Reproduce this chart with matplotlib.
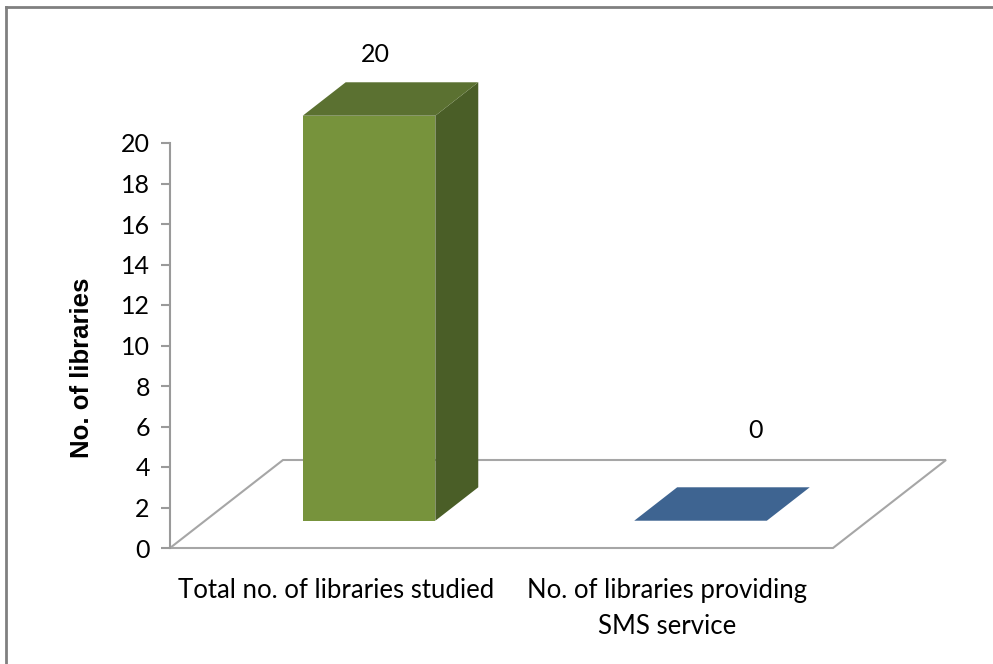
import matplotlib.pyplot as plt
from matplotlib.patches import Polygon
from matplotlib.lines import Line2D

categories = ["Total no. of libraries studied", "No. of libraries providing\nSMS service"]
values = [20, 0]
front_colors = ["#77933C", "#3E6491"]
top_colors = ["#5B7131", "#3E6491"]
side_colors = ["#4A5E27", "#34547A"]
y_ticks = list(range(0, 21, 2))

W, H = 993, 664
fig = plt.figure(figsize=(W / 100, H / 100), dpi=100)

# plot area: x 0..2 -> px 170..833, y 0..20 -> px 548..143
x0px, x1px, y0px, y1px = 170, 833, 548, 143
ax = fig.add_axes([x0px / W, 1 - y0px / H, (x1px - x0px) / W, (y0px - y1px) / H])
ax.set_xlim(0, len(categories))
ax.set_ylim(0, 20)
for s in ["top", "right", "bottom"]:
    ax.spines[s].set_visible(False)
ax.spines["left"].set_color("#9A9A9A")
ax.spines["left"].set_linewidth(1.5)
ax.set_xticks([])
ax.set_yticks(y_ticks)
ax.tick_params(axis="y", length=6.5, width=1.5, color="#9A9A9A", pad=8,
               labelsize=18)
for lab in ax.get_yticklabels():
    lab.set_fontfamily("Lato")
ax.set_ylabel("No. of libraries", fontsize=18.5, fontweight="bold",
              family="Liberation Sans")
ax.yaxis.set_label_coords(-0.115, 0.445)

# oblique depth (in data units)
dx = 113 / ((x1px - x0px) / 2)
dy = 88 / ((y0px - y1px) / 20)
d0, d1 = 0.31, 0.69
bw = 0.40

floor = Polygon([(0, 0), (len(categories), 0), (len(categories) + dx, dy), (dx, dy)],
                closed=True, facecolor="white", edgecolor="#A6A6A6", lw=1.5,
                clip_on=False, zorder=1)
ax.add_patch(floor)

for i, v in enumerate(values):
    xl = i + 0.5 - bw / 2 + d0 * dx * 0.95
    xr = xl + bw
    yb = d0 * dy
    ox, oy = (d1 - d0) * dx, (d1 - d0) * dy
    if v > 0:
        ax.add_patch(Polygon([(xl, yb), (xr, yb), (xr, yb + v), (xl, yb + v)],
                             facecolor=front_colors[i], edgecolor="none",
                             clip_on=False, zorder=3))
        ax.add_patch(Polygon([(xr, yb), (xr + ox, yb + oy), (xr + ox, yb + oy + v), (xr, yb + v)],
                             facecolor=side_colors[i], edgecolor="none",
                             clip_on=False, zorder=3))
    ax.add_patch(Polygon([(xl, yb + v), (xr, yb + v), (xr + ox, yb + oy + v), (xl + ox, yb + oy + v)],
                         facecolor=top_colors[i], edgecolor="none",
                         clip_on=False, zorder=3))
    if v > 0:
        lx, ly = xl + bw / 2 + 0.02, yb + oy + v + 1.35
    else:
        lx, ly = xr - 0.035, yb + oy + v + 2.8
    ax.text(lx, ly, str(v), ha="center", va="center", fontsize=18,
            family="Lato", clip_on=False)

for i, c in enumerate(categories):
    ax.text(i + 0.5, -1.5, c, ha="center", va="top", fontsize=18.5,
            family="Lato", linespacing=1.55, clip_on=False)

# outer frame (cropped)
fig.add_artist(Line2D([6 / W, 6 / W], [0, 1 - 7 / H], color="#808080", lw=2))
fig.add_artist(Line2D([6 / W, 1], [1 - 7 / H, 1 - 7 / H], color="#808080", lw=2))

fig.savefig("out.png", dpi=100)
